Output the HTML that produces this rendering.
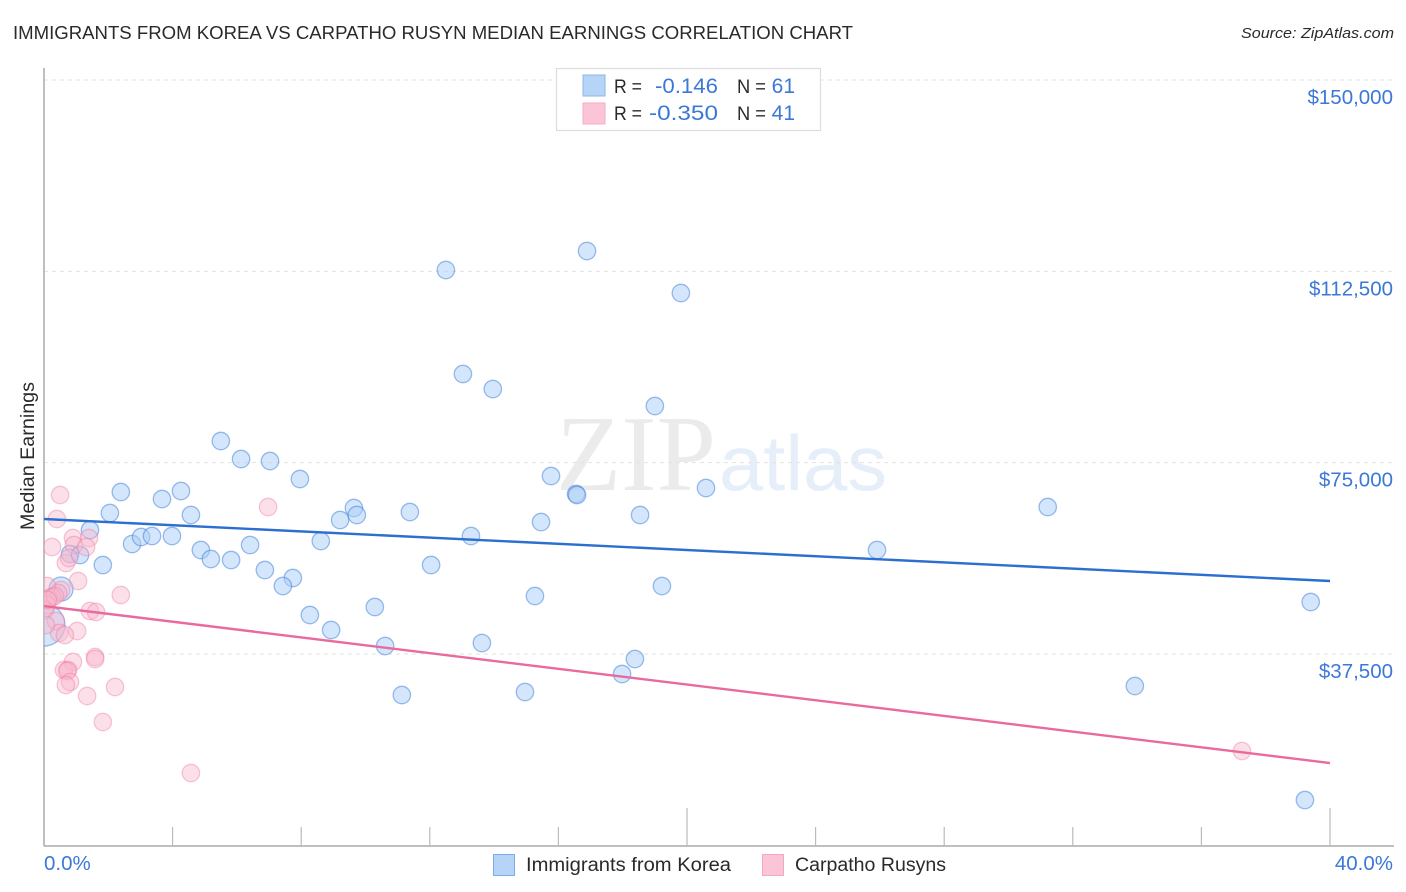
<!DOCTYPE html>
<html lang="en">
<head>
<meta charset="utf-8">
<title>Immigrants from Korea vs Carpatho Rusyn Median Earnings Correlation Chart</title>
<style>
html,body{margin:0;padding:0;background:#fff;width:1406px;height:892px;overflow:hidden}
svg{display:block;font-family:"Liberation Sans",sans-serif}
</style>
</head>
<body>
<svg id="chart" width="1406" height="892" viewBox="0 0 1406 892" xmlns="http://www.w3.org/2000/svg">
<defs><clipPath id="plot-clip"><rect x="44" y="60" width="1350" height="786"/></clipPath></defs>
<text x="13" y="39" font-size="18.5" fill="#2a2a2a" textLength="840" lengthAdjust="spacingAndGlyphs">IMMIGRANTS FROM KOREA VS CARPATHO RUSYN MEDIAN EARNINGS CORRELATION CHART</text>
<text x="1394" y="38" font-size="15" font-style="italic" fill="#2a2a2a" text-anchor="end" textLength="153" lengthAdjust="spacingAndGlyphs">Source: ZipAtlas.com</text>
<text x="556" y="490" font-family="Liberation Serif, serif" font-size="108" fill="#ebebeb" textLength="160" lengthAdjust="spacingAndGlyphs">ZIP</text>
<text x="719" y="490" font-size="78" fill="#e6eefa" textLength="168" lengthAdjust="spacingAndGlyphs">atlas</text>
<g id="grid"></g>
<g id="axes"></g>
<g id="points-clip" clip-path="url(#plot-clip)"></g>
<g id="trends"></g>
<text transform="translate(34 456) rotate(-90)" font-size="19" fill="#2a2a2a" text-anchor="middle" textLength="148" lengthAdjust="spacingAndGlyphs">Median Earnings</text>
<g>
<rect x="556.5" y="68.5" width="264" height="62" fill="#fff" stroke="#ddd" stroke-width="1.2"/>
<rect x="583" y="75" width="22" height="21" fill="#b6d3f8" stroke="#8db6e8"/>
<rect x="583" y="103" width="22" height="21" fill="#fcc4d7" stroke="#f3acc5"/>
<text x="614" y="93" font-size="19" fill="#2a2a2a" textLength="28" lengthAdjust="spacingAndGlyphs">R =</text>
<text x="655" y="93" font-size="21" fill="#3b78d8" textLength="63" lengthAdjust="spacingAndGlyphs">-0.146</text>
<text x="737" y="93" font-size="19" fill="#2a2a2a" textLength="29" lengthAdjust="spacingAndGlyphs">N =</text>
<text x="795" y="93" font-size="21" fill="#3b78d8" text-anchor="end">61</text>
<text x="614" y="120" font-size="19" fill="#2a2a2a" textLength="28" lengthAdjust="spacingAndGlyphs">R =</text>
<text x="649" y="120" font-size="21" fill="#3b78d8" textLength="69" lengthAdjust="spacingAndGlyphs">-0.350</text>
<text x="737" y="120" font-size="19" fill="#2a2a2a" textLength="29" lengthAdjust="spacingAndGlyphs">N =</text>
<text x="795" y="120" font-size="21" fill="#3b78d8" text-anchor="end">41</text>
</g>
<g>
<rect x="493.5" y="854.5" width="21" height="21" fill="#b6d3f8" stroke="#7fabe0"/>
<text x="526" y="871" font-size="19" fill="#2a2a2a" textLength="205" lengthAdjust="spacingAndGlyphs">Immigrants from Korea</text>
<rect x="762.5" y="854.5" width="21" height="21" fill="#fcc4d7" stroke="#f3a9c2"/>
<text x="795" y="871" font-size="19" fill="#2a2a2a" textLength="151" lengthAdjust="spacingAndGlyphs">Carpatho Rusyns</text>
</g>
</svg>
<script>
const yTicks = [150000, 112500, 75000, 37500];
const yTickLabels = ["$150,000", "$112,500", "$75,000", "$37,500"];
const xTicks = [0, 4, 8, 12, 16, 20, 24, 28, 32, 36, 40];
const xEndLabels = ["0.0%", "40.0%"];
const koreaPct = [16.89,12.50,19.81,13.03,13.96,19.00,5.50,6.13,7.03,7.96,15.77,20.59,2.39,4.26,3.67,16.55,16.58,31.22,9.64,9.73,9.21,2.05,4.57,11.38,18.54,15.46,1.43,13.28,2.74,3.02,3.36,3.98,8.61,6.41,4.88,25.91,0.81,1.12,5.19,5.82,1.83,6.87,12.04,7.74,7.43,19.22,0.53,15.27,39.40,10.29,8.27,8.93,0,13.62,10.61,18.38,17.98,11.13,14.96,33.93,39.22];
const koreaEarnings = [116484,112760,108252,92376,89436,86104,79244,75716,75324,71796,72384,70032,69248,69444,67876,68856,68660,66308,66112,64740,63760,65132,64740,65328,64740,63368,61800,60624,59056,60428,60624,60624,59644,58860,57880,57880,57096,56900,56116,55920,54940,53960,54940,52392,50824,50824,50236,48864,47688,46708,45140,42200,43180,39652,39064,36516,33576,29460,30048,31224,8880];
const rusynPct = [0.50,0.40,0.25,0.90,0.93,1.40,1.31,0.68,0.78,1.06,2.39,0.53,0.44,0.09,0.16,0.25,0.09,0.03,0.34,0.12,0.37,1.43,1.62,1.03,0.47,0.65,1.59,1.59,0.90,0.62,0.75,0.72,0.81,0.68,2.21,1.34,1.83,4.57,6.97,37.26,0.06];
const rusynEarnings = [68660,63956,58468,60232,58860,60232,58468,55332,56312,51804,49060,50040,49452,50824,48472,48668,47100,46120,48864,48080,43964,45924,45728,42004,41612,41220,36908,36516,35928,34360,34360,34164,32008,31420,31028,29264,24168,14172,66308,18484,43180];
const koreaTrendEnds = [63956, 51804];
const rusynTrendEnds = [46904, 16132];
const trendPct = [0, 40];

const NS = "http://www.w3.org/2000/svg";
const xScale = p => 44 + p * 32.15;
const yScale = v => 80 + (150000 - v) * 191.33 / 37500;
const largeKorea = { 46: 12, 52: 21 };
function mk(tag, parent, attrs) {
  const el = document.createElementNS(NS, tag);
  for (const k in attrs) el.setAttribute(k, attrs[k]);
  parent.appendChild(el);
  return el;
}
const grid = document.getElementById("grid");
const axes = document.getElementById("axes");
const plot = document.getElementById("points-clip");
const trends = document.getElementById("trends");

yTicks.forEach((v, i) => {
  const line = mk("line", grid, { x1: 44, x2: 1394, y1: yScale(v), y2: yScale(v), stroke: "#e2e2e2", "stroke-width": 1, "stroke-dasharray": "4 4" });
  
  
  const label = mk("text", axes, { x: 1393, y: yScale(v) + 24, "font-size": 20.5, fill: "#3b78d8", "text-anchor": "end" });
  
  
  label.textContent = yTickLabels[i];
});

const yAxis = mk("line", axes, { x1: 44, x2: 44, y1: 68, y2: 846, stroke: "#aaa", "stroke-width": 1.5 });


const xAxis = mk("line", axes, { x1: 44, x2: 1394, y1: 846, y2: 846, stroke: "#aaa", "stroke-width": 1.5 });



xTicks.forEach(p => {
  if (p === 0) return;
  const tall = p === 20 || p === 40;
  const tick = mk("line", axes, { x1: xScale(p), x2: xScale(p), y1: tall ? 808 : 827, y2: 846, stroke: "#bbb", "stroke-width": 1.2 });
  
  
});

const xLabelLeft = mk("text", axes, { x: 44, y: 870, "font-size": 20.5, fill: "#3b78d8" });


xLabelLeft.textContent = xEndLabels[0];
const xLabelRight = mk("text", axes, { x: 1393, y: 870, "font-size": 20.5, fill: "#3b78d8", "text-anchor": "end" });


xLabelRight.textContent = xEndLabels[1];

koreaPct.forEach((p, i) => {
  const dot = mk("circle", plot, { cx: xScale(p), cy: yScale(koreaEarnings[i]), r: largeKorea[i] || 8.7, fill: "rgba(170,205,248,.5)", stroke: "rgba(60,125,215,.5)", "stroke-width": 1.3 });
  
  
});
rusynPct.forEach((p, i) => {
  const dot = mk("circle", plot, { cx: xScale(p), cy: yScale(rusynEarnings[i]), r: 8.7, fill: "rgba(248,180,203,.42)", stroke: "rgba(238,125,162,.42)", "stroke-width": 1.3 });
  
  
});

const koreaTrend = mk("line", trends, { x1: xScale(trendPct[0]), x2: xScale(trendPct[1]), y1: yScale(koreaTrendEnds[0]), y2: yScale(koreaTrendEnds[1]), stroke: "#2b6fd0", "stroke-width": 2.4 });


const rusynTrend = mk("line", trends, { x1: xScale(trendPct[0]), x2: xScale(trendPct[1]), y1: yScale(rusynTrendEnds[0]), y2: yScale(rusynTrendEnds[1]), stroke: "#e96a9c", "stroke-width": 2.4 });


</script>
</body>
</html>
